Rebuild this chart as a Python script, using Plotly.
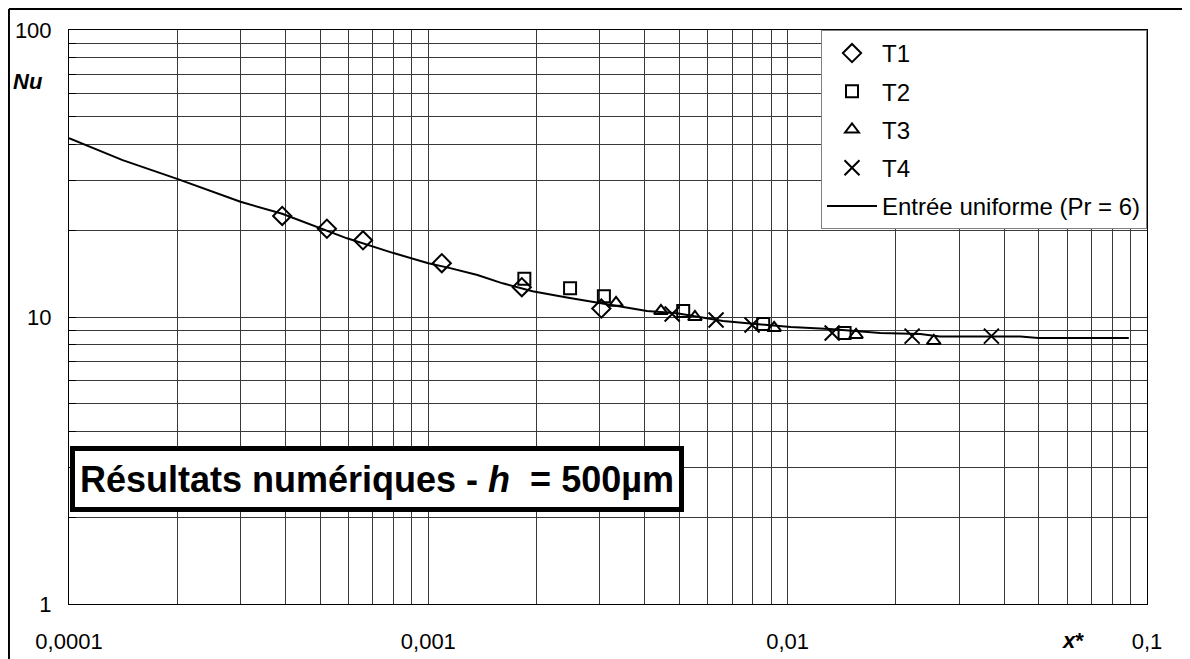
import plotly.graph_objects as go

# ---- data ----
t1_x = [3.92e-4, 5.22e-4, 6.58e-4, 1.09e-3, 1.82e-3, 3.03e-3]
t1_y = [22.5, 20.3, 18.5, 15.4, 12.7, 10.7]

t2_x = [1.85e-3, 2.48e-3, 3.08e-3, 5.12e-3, 8.55e-3, 1.44e-2]
t2_y = [13.6, 12.6, 11.8, 10.5, 9.46, 8.8]

t3_x = [3.33e-3, 4.44e-3, 5.52e-3, 9.17e-3, 1.55e-2, 2.55e-2]
t3_y = [11.2, 10.5, 10.0, 9.16, 8.66, 8.25]

t4_x = [4.77e-3, 6.32e-3, 7.96e-3, 1.33e-2, 2.22e-2, 3.69e-2]
t4_y = [10.24, 9.76, 9.38, 8.8, 8.58, 8.58]

curve_x = [1e-4, 1.41e-4, 2e-4, 2.58e-4, 3e-4, 3.92e-4, 4.9e-4, 5.94e-4, 8e-4,
           1e-3, 1.15e-3, 1.37e-3, 1.61e-3, 1.95e-3, 2.43e-3, 3e-3, 4.06e-3,
           4.92e-3, 6.61e-3, 1.02e-2, 1.31e-2, 1.81e-2, 2.34e-2, 2.65e-2,
           4.44e-2, 4.98e-2, 8.9e-2]
curve_y = [42.0, 35.2, 30.3, 27.0, 25.2, 22.9, 20.6, 18.8, 16.7,
           15.4, 14.8, 14.0, 13.1, 12.3, 11.7, 11.2, 10.5,
           10.3, 9.68, 9.23, 9.08, 8.8, 8.73, 8.55,
           8.55, 8.45, 8.45]

x_decades = [1e-4, 1e-3, 1e-2, 1e-1]
x_labels = ["0,0001", "0,001", "0,01", "0,1"]
y_decades = [1, 10, 100]
y_labels = ["1", "10", "100"]

FONT = "Arial, Liberation Sans, sans-serif"
FS = 22

def grid_vals(decades, labels):
    vals, texts = [], []
    for i, d in enumerate(decades):
        vals.append(d)
        texts.append(labels[i])
        if i < len(decades) - 1:
            for k in range(2, 10):
                vals.append(d * k)
                texts.append("")
    return vals, texts

xv, xt = grid_vals(x_decades, x_labels)
yv, yt = grid_vals(y_decades, y_labels)

fig = go.Figure()
mk = dict(color="black", width=2)
fig.add_trace(go.Scatter(x=t1_x, y=t1_y, mode="markers", name="T1", legendgroup="a",
                         marker=dict(symbol="diamond-open", size=14, color="black", line=mk)))
fig.add_trace(go.Scatter(x=t2_x, y=t2_y, mode="markers", name="T2", legendgroup="b",
                         marker=dict(symbol="square-open", size=12, color="black", line=mk)))
fig.add_trace(go.Scatter(x=t3_x, y=t3_y, mode="markers", name="T3", legendgroup="c",
                         marker=dict(symbol="triangle-up-open", size=12, color="black", line=mk)))
fig.add_trace(go.Scatter(x=t4_x, y=t4_y, mode="markers", name="T4", legendgroup="d",
                         marker=dict(symbol="x-thin-open", size=15, color="black", line=mk)))
fig.add_trace(go.Scatter(x=curve_x, y=curve_y, mode="lines", name="Entrée uniforme (Pr = 6)",
                         legendgroup="e", line=dict(color="black", width=2)))

gridc = "#3a3a3a"
fig.update_xaxes(type="log", range=[-4, -1], tickmode="array", tickvals=xv, ticktext=xt,
                 showgrid=True, gridcolor=gridc, gridwidth=1, zeroline=False,
                 showline=True, linecolor="black", linewidth=1, mirror=True,
                 ticks="", ticklabelstandoff=18, automargin=False,
                 tickfont=dict(family=FONT, size=FS, color="black"))
fig.update_yaxes(type="log", range=[0, 2], tickmode="array", tickvals=yv, ticktext=yt,
                 showgrid=True, gridcolor=gridc, gridwidth=1, zeroline=False,
                 showline=True, linecolor="black", linewidth=1, mirror=True,
                 ticks="inside", ticklen=7, tickcolor="black", ticklabelstandoff=12,
                 automargin=False,
                 tickfont=dict(family=FONT, size=FS, color="black"))

fig.update_layout(
    width=1182, height=651,
    margin=dict(l=61, r=43, t=22, b=55),
    paper_bgcolor="white", plot_bgcolor="white",
    font=dict(family=FONT, size=FS, color="black"),
    legend=dict(x=1.0, xanchor="right", y=1.0, yanchor="top",
                bgcolor="white", bordercolor="#808080", borderwidth=1,
                font=dict(family=FONT, size=24, color="black"),
                tracegroupgap=4, itemwidth=50, traceorder="grouped"),
    annotations=[
        dict(text="<b><i>Nu</i></b>", xref="paper", yref="paper", x=-0.038, y=0.911,
             xanchor="center", yanchor="middle",
             showarrow=False, font=dict(family=FONT, size=FS, color="black")),
        dict(text="<b><i>x</i>*</b>", xref="paper", yref="paper", x=0.931, y=-0.063,
             xanchor="center", yanchor="middle",
             showarrow=False, font=dict(family=FONT, size=FS, color="black")),
        dict(text="<b>Résultats numériques - <i>h</i>  = 500µm</b>", xref="paper", yref="paper",
             x=0.2857, y=0.2186, xanchor="center", yanchor="middle",
             showarrow=False, bgcolor="white",
             bordercolor="black", borderwidth=5, borderpad=4, width=596, height=48,
             font=dict(family=FONT, size=36, color="black")),
    ],
    shapes=[
        dict(type="line", xref="paper", yref="paper", x0=-0.0557, x1=-0.0557,
             y0=-0.1, y1=1.0366, line=dict(color="black", width=2)),
        dict(type="line", xref="paper", yref="paper", x0=-0.0557, x1=1.05,
             y0=1.0366, y1=1.0366, line=dict(color="black", width=2)),
    ],
)

fig.write_html("out.html")
